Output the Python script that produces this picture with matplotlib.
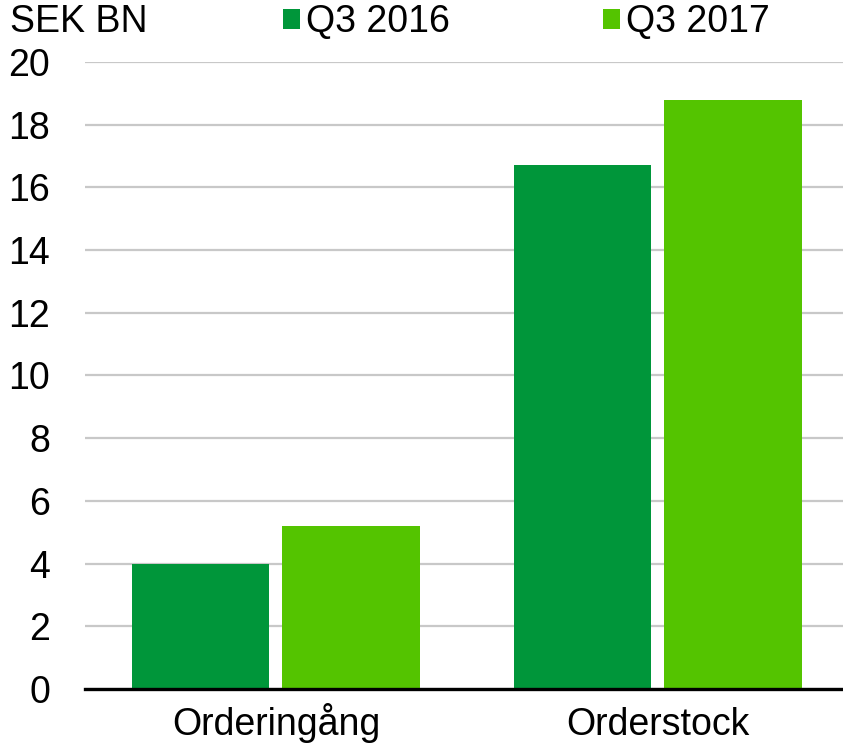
import matplotlib
matplotlib.use("Agg")
import matplotlib.pyplot as plt
import numpy as np

categories = ["Orderingång", "Orderstock"]
series_names = ["Q3 2016", "Q3 2017"]
q3_2016 = [4.0, 16.7]
q3_2017 = [5.2, 18.8]
yticks = [0, 2, 4, 6, 8, 10, 12, 14, 16, 18, 20]

DARK = "#00963A"
LIGHT = "#54C400"
FS = 27

plt.rcParams["font.family"] = ["Liberation Sans", "DejaVu Sans"]

fig = plt.figure(figsize=(8.43, 7.44), dpi=100)
ax = fig.add_axes([0.1008, 0.0739, 0.9063, 0.8428])

x = np.arange(len(categories))
w = 0.36
off = 0.197
b1 = ax.bar(x - off, q3_2016, w, color=DARK, label=series_names[0], zorder=3)
b2 = ax.bar(x + off, q3_2017, w, color=LIGHT, label=series_names[1], zorder=3)

ax.set_xlim(-0.5, 1.5)
ax.set_ylim(0, 20)
ax.set_yticks(yticks)
ax.set_xticks(x)
ax.set_xticklabels(categories)
ax.tick_params(axis="y", length=0, pad=25, labelsize=FS)
ax.tick_params(axis="x", length=0, pad=33, labelsize=FS)
for lab in ax.get_yticklabels():
    lab.set_horizontalalignment("right")
for lab in ax.get_xticklabels():
    lab.set_verticalalignment("baseline")

ax.yaxis.grid(True, color="#C8C8C8", linewidth=1.6, zorder=0)
ax.set_axisbelow(True)
for s in ["top", "right", "left"]:
    ax.spines[s].set_visible(False)
ax.spines["bottom"].set_linewidth(2.4)
ax.spines["bottom"].set_color("black")
ax.spines["bottom"].set_zorder(4)

fig.text(0.012, 0.970, "SEK BN", fontsize=FS, va="center", ha="left")
fig.legend(handles=[b1, b2], loc="center left", bbox_to_anchor=(0.3357, 0.970),
           ncol=2, frameon=False, fontsize=FS, handlelength=0.45, handleheight=0.45,
           handletextpad=0.16, columnspacing=4.08, borderpad=0, borderaxespad=0)

fig.savefig("out.png", dpi=100)
